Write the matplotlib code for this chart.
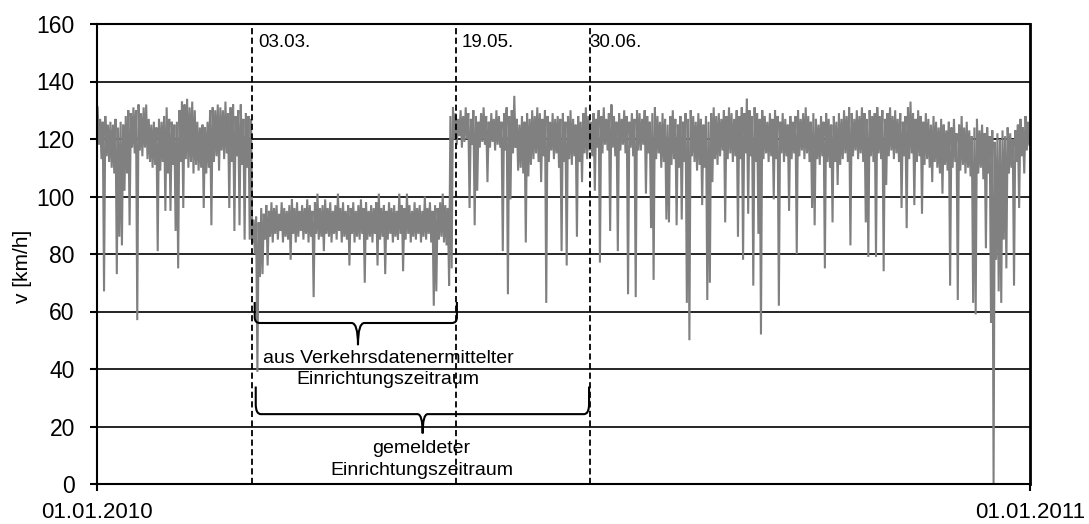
import numpy as np
import matplotlib
matplotlib.use("Agg")
import matplotlib.pyplot as plt
from matplotlib.path import Path
from matplotlib.patches import PathPatch

plt.rcParams['font.family'] = ['Liberation Sans', 'DejaVu Sans']

# ---- data: daily upper / lower speed values [km/h] ----
hi_jan = [131,127,126,128,125, 126,125,127,124,126, 125,128,130,129,131,
          130,132,129,131,132, 127,125,126,124,127, 126,128,131,127,126,125]
lo_jan = [118,113,67,114,112, 110,108,73,86,83, 102,108,90,117,115,
          57,116,114,117,113, 112,110,111,81,109, 112,95,108,95,111,88]
hi_feb = [126,130,133,132,134, 131,133,130,126,124, 125,124,126,130,131,
          130,132,131,130,133, 129,131,132,128,130, 132,127,129]
lo_feb = [75,112,96,113,110, 112,108,111,109,110, 96,108,110,90,112,
          114,109,116,113,115, 96,112,88,114,90, 111,85,110]
hi_mar = [128,127,92,93,91,96,94,97,95,98,96,97,94,98,96,95,97,99,96,98,
          95,97,96,99,97,95,98,101,96,97,99]
lo_mar = [85,84,80,39,72,73,85,76,86,84,87,85,88,84,86,85,78,87,84,86,
          88,85,87,84,86,65,87,85,86,81,87]
hi_apr = [96,98,95,97,101,96,98,95,97,96,98,95,97,99,96,98,95,97,96,98,
          101,96,97,95,98,96,97,95,101,97]
lo_apr = [86,84,87,85,88,84,86,85,76,87,84,86,85,87,70,85,86,84,87,76,
          85,86,73,85,87,84,86,85,87,74]
hi_may = [96,101,97,95,98,96,97,95,100,96,98,95,97,96,98,101,97,96,
          128,131,129,127,130,128,131,129,127,130,128,126,129]
lo_may = [85,87,84,86,85,87,84,86,85,87,84,62,67,85,86,84,83,69,
          75,120,118,121,117,119,120,96,118,90,102,117,119]
hi_jun = [131,128,126,129,127,130,128,126,129,131,128,130,135,127,125,
          128,126,129,127,130,128,131,129,127,130,128,126,129,127,128]
lo_jun = [118,105,117,119,116,118,117,81,116,66,99,115,117,109,110,
          108,84,107,111,113,115,112,105,114,63,112,116,113,115,110]
hi_jul = [127,129,126,128,130,127,125,128,126,129,131,128,126,129,127,
          130,128,131,127,129,132,128,126,129,127,130,128,126,129,127,130]
lo_jul = [81,112,76,113,111,114,86,112,105,115,113,116,114,102,117,
          77,115,118,116,88,117,114,81,116,118,115,66,117,114,65,116]
hi_aug = [129,127,130,128,126,129,131,128,126,129,127,125,128,130,127,
          125,128,126,129,127,130,128,126,129,127,125,128,126,129,131,128]
lo_aug = [116,118,101,115,89,71,113,115,110,112,92,91,111,113,90,
          110,92,112,63,50,114,112,109,111,97,110,64,70,105,113,111]
hi_sep = [129,127,130,128,131,129,127,130,128,131,129,134,130,128,131,
          129,127,130,128,126,129,127,130,128,126,129,127,125,128,126]
lo_sep = [114,116,91,113,115,112,114,86,113,78,115,94,114,69,112,
          87,52,113,115,112,114,99,113,62,115,112,114,95,113,115]
hi_oct = [128,130,127,129,131,128,126,129,127,125,128,126,129,127,125,
          128,126,129,127,130,128,131,129,127,130,128,131,129,127,130,128]
lo_oct = [80,114,116,113,115,112,96,90,113,111,114,75,112,110,91,
          112,104,111,113,115,112,83,114,116,113,115,112,91,79,114,112]
hi_nov = [129,131,128,130,127,129,131,128,130,127,129,126,128,131,133,
          129,127,130,128,126,129,127,125,128,126,124,127,125,123,126]
lo_nov = [79,115,113,74,104,114,116,113,115,112,96,114,89,113,115,
          97,112,114,94,111,113,110,105,112,110,108,101,111,109,69]
hi_dec = [124,127,122,125,128,124,126,123,121,124,127,123,125,122,124,
          121,123,119,122,120,123,121,124,122,120,123,125,127,124,128,126]
lo_dec = [110,112,64,109,111,108,110,107,63,59,108,110,106,82,108,
          56,0,78,67,63,85,75,108,110,69,112,96,114,108,116,118]

x_tick_labels = ['01.01.2010', '01.01.2011']
event_labels = ['03.03.', '19.05.', '30.06.']
brace_texts = [['aus Verkehrsdatenermittelter', 'Einrichtungszeitraum'],
               ['gemeldeter', 'Einrichtungszeitraum']]

hi = np.array(hi_jan + hi_feb + hi_mar + hi_apr + hi_may + hi_jun +
              hi_jul + hi_aug + hi_sep + hi_oct + hi_nov + hi_dec, float)
lo = np.array(lo_jan + lo_feb + lo_mar + lo_apr + lo_may + lo_jun +
              lo_jul + lo_aug + lo_sep + lo_oct + lo_nov + lo_dec, float)
n_days = len(hi)
days = np.arange(n_days)
# two readings per day: upper then lower
t = np.column_stack([days + 0.25, days + 0.75]).ravel()
v = np.column_stack([hi, lo]).ravel()

# ---- figure ----
fig = plt.figure(figsize=(10.89, 5.24), dpi=100)
ax = fig.add_axes([97/1089, 40/524, 933/1089, 460/524])

ax.set_xlim(0, 365)
ax.set_ylim(0, 160)
ax.set_yticks(np.arange(0, 161, 20))
ax.yaxis.grid(True, color='black', lw=1.2, zorder=0)
ax.set_axisbelow(True)
for s in ax.spines.values():
    s.set_color('black')
    s.set_linewidth(1.5)
ax.spines['right'].set_linewidth(2)

ax.plot(t, v, color='#808080', lw=1.5, zorder=2, solid_joinstyle='miter')

ax.set_xticks([0, 365])
ax.set_xticklabels(x_tick_labels, fontsize=16)
ax.tick_params(axis='x', direction='out', length=5, width=1.5, pad=8)
ax.tick_params(axis='y', direction='out', length=5, width=1.5, labelsize=16.5, pad=11)
ax.set_ylabel('v [km/h]', fontsize=15)
ax.yaxis.set_label_coords(-0.0697, 0.474)

# event lines
event_pos = [60.8, 140.4, 192.9]
event_text_x = [63.0, 142.8, 192.6]
for xp, xt, lab in zip(event_pos, event_text_x, event_labels):
    ax.plot([xp, xp], [0, 160], color='black', lw=1.3,
            linestyle=(0, (3.4, 1.9)), zorder=3)
    ax.text(xt, 153.4, lab, fontsize=13.5, ha='left', va='center', zorder=4)


def brace(x0, x1, xc, y_end, y_mid, y_tip, rx, ry, cx):
    verts = [(x0, y_end), (x0, y_mid + ry), (x0, y_mid), (x0 + rx, y_mid),
             (xc - cx, y_mid), (xc, y_mid), (xc, y_tip),
             (xc, y_mid), (xc + cx, y_mid),
             (x1 - rx, y_mid), (x1, y_mid), (x1, y_mid + ry), (x1, y_end)]
    codes = [Path.MOVETO, Path.LINETO, Path.CURVE3, Path.CURVE3,
             Path.LINETO, Path.CURVE3, Path.CURVE3,
             Path.CURVE3, Path.CURVE3,
             Path.LINETO, Path.CURVE3, Path.CURVE3, Path.LINETO]
    ax.add_patch(PathPatch(Path(verts, codes), fill=False, ec='black',
                           lw=1.5, zorder=4, capstyle='butt'))


brace(61.7, 140.8, 102.1, 63.3, 56.0, 48.3, 2.0, 2.0, 2.5)
brace(62.1, 192.5, 127.4, 33.9, 24.3, 17.6, 2.0, 3.5, 2.0)

ax.text(113.8, 43.5, brace_texts[0][0], fontsize=14, ha='center', va='center', zorder=4)
ax.text(113.8, 36.5, brace_texts[0][1], fontsize=14, ha='center', va='center', zorder=4)
ax.text(127.0, 12.2, brace_texts[1][0], fontsize=14, ha='center', va='center', zorder=4)
ax.text(127.0, 4.6, brace_texts[1][1], fontsize=14, ha='center', va='center', zorder=4)

fig.savefig('out.png', dpi=100)
